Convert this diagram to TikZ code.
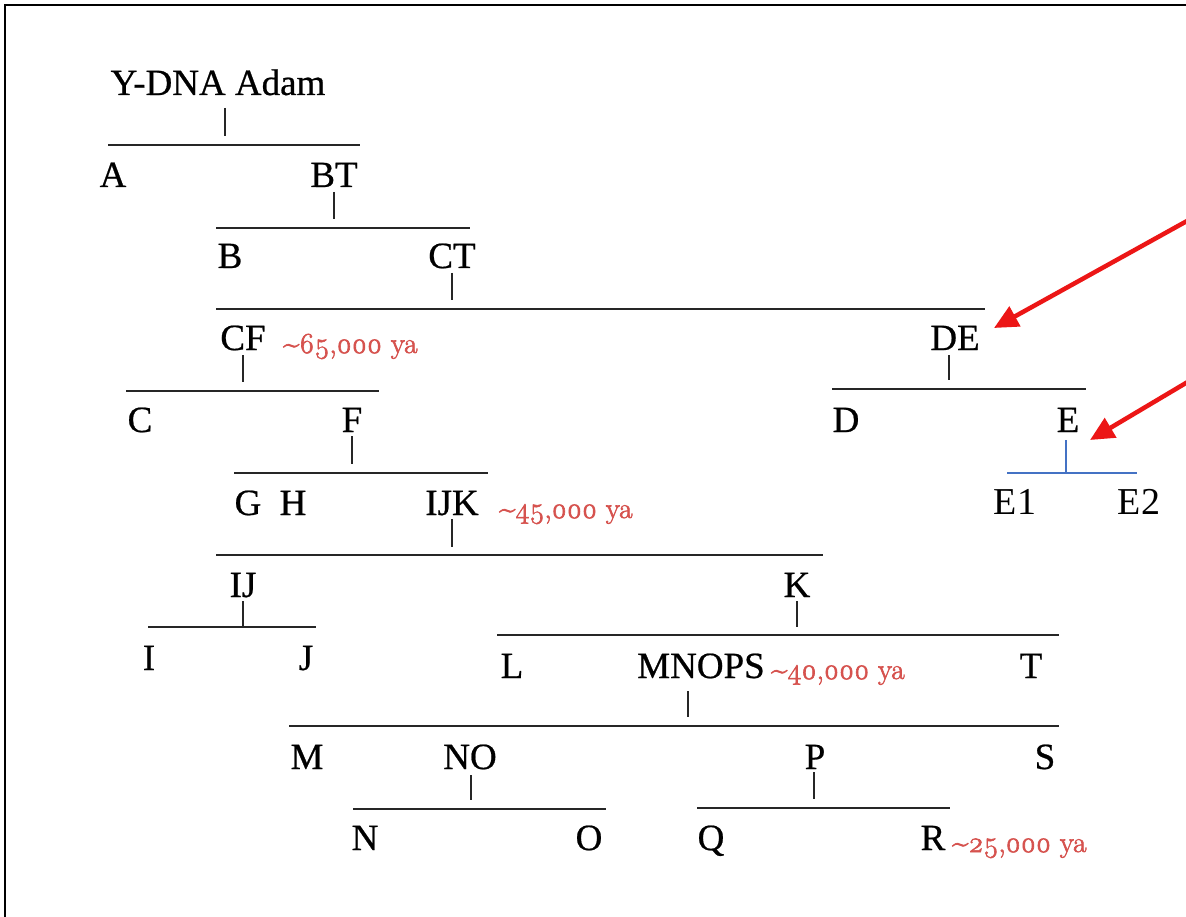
\documentclass[tikz,border=0pt]{standalone}
\usepackage{fontspec}
\setmainfont{Liberation Serif}
\newfontfamily\lblfont{Liberation Serif}[FakeBold=0.6]
\newfontfamily\agefont{Latin Modern Roman}[Numbers=OldStyle, FakeBold=2.2]
\usetikzlibrary{arrows.meta}
\definecolor{agered}{RGB}{214,82,78}
\definecolor{eblue}{RGB}{68,114,196}
\definecolor{arrred}{RGB}{236,22,22}
\tikzset{
  lbl/.style={anchor=base, inner sep=0pt, font=\lblfont\fontsize{37}{42}\selectfont},
  elbl/.style={anchor=base, inner sep=0pt, font=\fontsize{38}{44}\selectfont},
  age/.style={anchor=base west, inner sep=0pt, text=agered, font=\agefont\fontsize{29}{33}\selectfont},
  bar/.style={line width=1.8pt, black!85},
  tick/.style={line width=1.3pt, black!85},
  ebar/.style={line width=2pt, eblue},
  pointer/.style={line width=4.5pt, arrred, -{Triangle[length=24pt,width=22pt]}},
  frame/.style={line width=2.5pt, black}
}
\begin{document}
\begin{tikzpicture}[x=1pt,y=-1pt]
\fill[white] (0,0) rectangle (1186,917);
\useasboundingbox (0,0) rectangle (1186,917);
\draw[frame] (5,917) -- (5,5) -- (1186,5);

% Level 0
\node[lbl] (adam) at (218,95) {Y-DNA Adam};
\coordinate (t0a) at (225,108); \coordinate (t0b) at (225,136);
\coordinate (b0l) at (108,145); \coordinate (b0r) at (360,145);
\draw[tick] (t0a) -- (t0b); \draw[bar] (b0l) -- (b0r);

% A / BT
\node[lbl] (A) at (113,187) {A};
\node[lbl] (BT) at (334,187) {BT};
\coordinate (t1a) at (334,192); \coordinate (t1b) at (334,219);
\coordinate (b1l) at (216,228); \coordinate (b1r) at (470,228);
\draw[tick] (t1a) -- (t1b); \draw[bar] (b1l) -- (b1r);

% B / CT
\node[lbl] (B) at (230,268) {B};
\node[lbl] (CT) at (452,268) {CT};
\coordinate (t2a) at (452,273); \coordinate (t2b) at (452,300);
\coordinate (b2l) at (216,309); \coordinate (b2r) at (985,309);
\draw[tick] (t2a) -- (t2b); \draw[bar] (b2l) -- (b2r);

% CF / DE
\node[lbl] (CF) at (243,350) {CF};
\node[age] (age65) at (283,353) {\textasciitilde65,000 ya};
\coordinate (t3a) at (243,355); \coordinate (t3b) at (243,382);
\coordinate (b3l) at (126,391); \coordinate (b3r) at (379,391);
\draw[tick] (t3a) -- (t3b); \draw[bar] (b3l) -- (b3r);

\node[lbl] (DE) at (955,350) {DE};
\coordinate (t4a) at (949,355); \coordinate (t4b) at (949,380);
\coordinate (b4l) at (832,389); \coordinate (b4r) at (1086,389);
\draw[tick] (t4a) -- (t4b); \draw[bar] (b4l) -- (b4r);

% C / F / D / E
\node[lbl] (C) at (140,432) {C};
\node[lbl] (F) at (352,432) {F};
\coordinate (t5a) at (352,436); \coordinate (t5b) at (352,464);
\coordinate (b5l) at (234,473); \coordinate (b5r) at (488,473);
\draw[tick] (t5a) -- (t5b); \draw[bar] (b5l) -- (b5r);

\node[lbl] (D) at (846,432) {D};
\node[lbl] (E) at (1068,432) {E};
\coordinate (t6a) at (1066,440); \coordinate (t6b) at (1066,473);
\coordinate (b6l) at (1007,473); \coordinate (b6r) at (1137,473);
\draw[ebar] (t6a) -- (t6b); \draw[ebar] (b6l) -- (b6r);
\node[elbl] (E1) at (1015,514) {E1};
\node[elbl] (E2) at (1139,514) {E2};

% G H IJK
\node[lbl] (G) at (248,515) {G};
\node[lbl] (H) at (293,515) {H};
\node[lbl] (IJK) at (452,515) {IJK};
\node[age] (age45) at (499,518) {\textasciitilde45,000 ya};
\coordinate (t7a) at (452,519); \coordinate (t7b) at (452,547);
\coordinate (b7l) at (216,555); \coordinate (b7r) at (823,555);
\draw[tick] (t7a) -- (t7b); \draw[bar] (b7l) -- (b7r);

% IJ / K
\node[lbl] (IJ) at (243,597) {IJ};
\coordinate (t8a) at (243,601); \coordinate (t8b) at (243,627);
\coordinate (b8l) at (148,627); \coordinate (b8r) at (316,627);
\draw[tick] (t8a) -- (t8b); \draw[bar] (b8l) -- (b8r);
\node[lbl] (I) at (149,670) {I};
\node[lbl] (J) at (306,670) {J};

\node[lbl] (K) at (797,597) {K};
\coordinate (t9a) at (797,601); \coordinate (t9b) at (797,627);
\coordinate (b9l) at (497,635); \coordinate (b9r) at (1059,635);
\draw[tick] (t9a) -- (t9b); \draw[bar] (b9l) -- (b9r);

% L / MNOPS / T
\node[lbl] (L) at (512,678) {L};
\node[lbl] (MNOPS) at (701,678) {MNOPS};
\node[age] (age40) at (771,679) {\textasciitilde40,000 ya};
\node[lbl] (T) at (1031,678) {T};
\coordinate (t10a) at (688,691); \coordinate (t10b) at (688,717);
\coordinate (b10l) at (289,726); \coordinate (b10r) at (1059,726);
\draw[tick] (t10a) -- (t10b); \draw[bar] (b10l) -- (b10r);

% M / NO / P / S
\node[lbl] (M) at (307,769) {M};
\node[lbl] (NO) at (470,769) {NO};
\node[lbl] (P) at (815,769) {P};
\node[lbl] (S) at (1045,769) {S};
\coordinate (t11a) at (471,775); \coordinate (t11b) at (471,800);
\coordinate (b11l) at (353,809); \coordinate (b11r) at (606,809);
\draw[tick] (t11a) -- (t11b); \draw[bar] (b11l) -- (b11r);
\coordinate (t12a) at (814,772); \coordinate (t12b) at (814,799);
\coordinate (b12l) at (697,808); \coordinate (b12r) at (950,808);
\draw[tick] (t12a) -- (t12b); \draw[bar] (b12l) -- (b12r);

% N O Q R
\node[lbl] (N) at (365,850) {N};
\node[lbl] (O) at (589,850) {O};
\node[lbl] (Q) at (711,850) {Q};
\node[lbl] (R) at (933,850) {R};
\node[age] (age25) at (952,852) {\textasciitilde25,000 ya};

% red pointers
\coordinate (p1s) at (1196,216); \coordinate (p1e) at (994,328);
\coordinate (p2s) at (1196,377); \coordinate (p2e) at (1090,440);
\draw[pointer] (p1s) -- (p1e);
\draw[pointer] (p2s) -- (p2e);
\end{tikzpicture}
\end{document}
